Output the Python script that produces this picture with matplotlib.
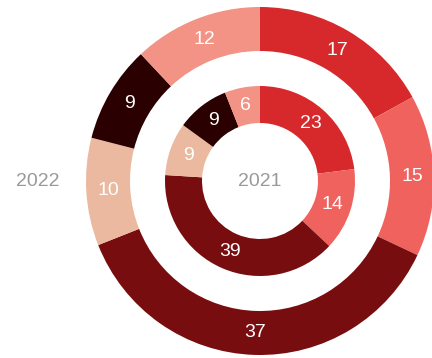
import matplotlib
matplotlib.use('Agg')
import matplotlib.pyplot as plt

plt.rcParams['font.family'] = ['Liberation Sans', 'DejaVu Sans']

# ── Data ──────────────────────────────────────────────────
values_2022 = [17, 15, 37, 10, 9, 12]
values_2021 = [23, 14, 39, 9, 9, 6]
colors = ['#d7282b', '#f0625e', '#780d0f', '#ebb99f', '#2a0000', '#f29386']
ring_labels = ['2022', '2021']

fig = plt.figure(figsize=(4.32, 3.58), dpi=100)
ax = fig.add_axes([0, 0, 1, 1])
ax.set_aspect('equal')
ax.axis('off')

# outer ring (2022)
ax.pie(values_2022, radius=174, colors=colors, startangle=90, counterclock=False,
       labels=[str(v) for v in values_2022], labeldistance=(174 - 22) / 174,
       textprops=dict(color='white', fontsize=14, ha='center', va='center'),
       wedgeprops=dict(width=44, linewidth=0))

# inner ring (2021)
ax.pie(values_2021, radius=95, colors=colors, startangle=90, counterclock=False,
       labels=[str(v) for v in values_2021], labeldistance=(95 - 18.5) / 95,
       textprops=dict(color='white', fontsize=14, ha='center', va='center'),
       wedgeprops=dict(width=37, linewidth=0))

ax.set_xlim(-260, 172)
ax.set_ylim(-177, 181)

ax.text(-222, 0, ring_labels[0], color='#9a9a9a', fontsize=14, ha='center', va='center')
ax.text(0, 0, ring_labels[1], color='#9a9a9a', fontsize=14, ha='center', va='center')

plt.savefig('out.png', dpi=100)
plt.close()
